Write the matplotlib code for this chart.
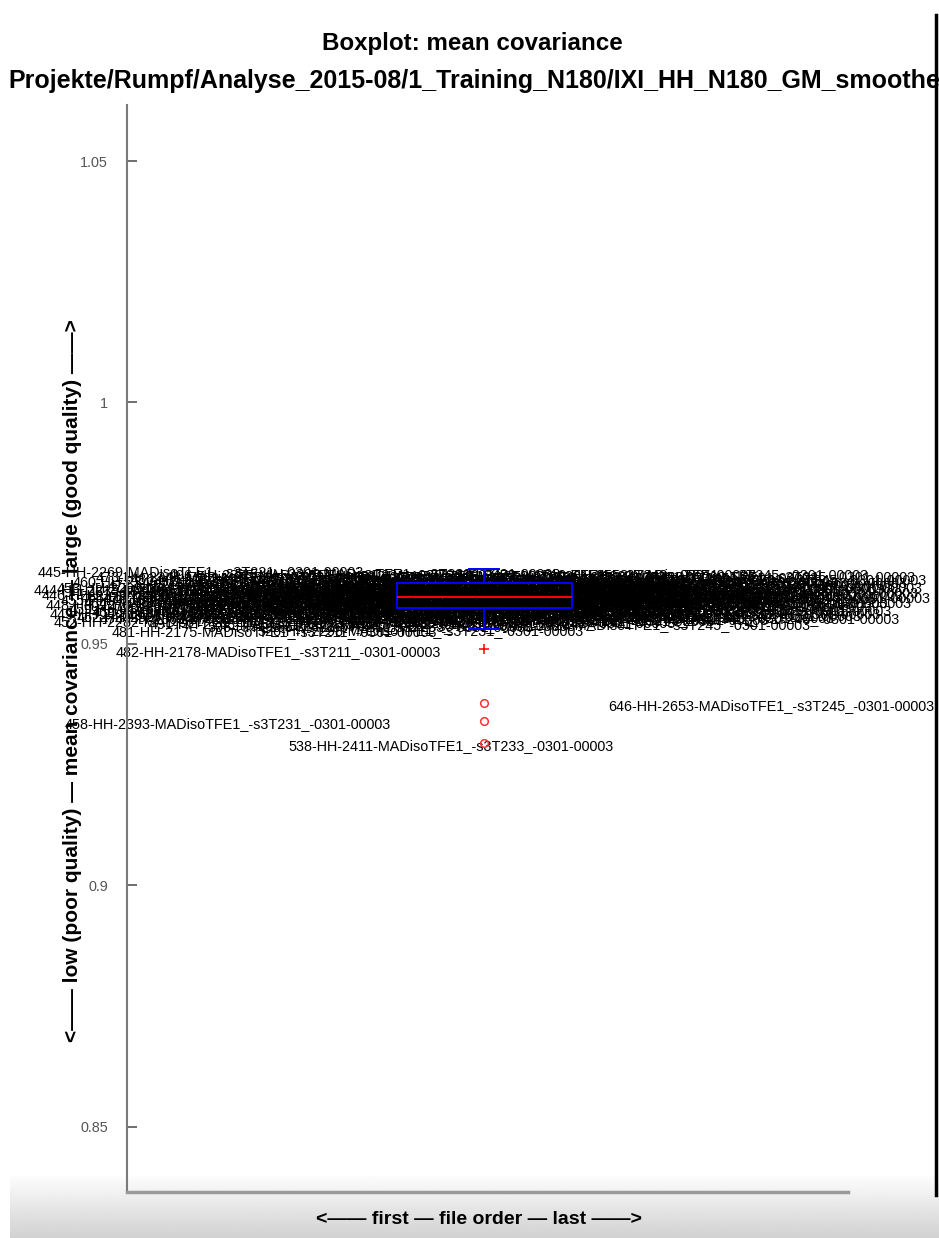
import numpy as np
import matplotlib

matplotlib.use("Agg")
import matplotlib.pyplot as plt
from matplotlib.lines import Line2D
from matplotlib.ticker import FormatStrFormatter

plt.rcParams["font.family"] = ["Liberation Sans", "DejaVu Sans"]

# scans in file order (IXI subject, HH session, scan series) and their mean covariance
subject = [444, 445, 446, 448, 449, 452, 453, 455, 458, 459,
           460, 462, 463, 464, 467, 469, 473, 474, 476, 477,
           481, 482, 483, 484, 485, 486, 487, 488, 489, 490,
           491, 492, 493, 494, 495, 496, 497, 498, 499, 500,
           501, 502, 503, 504, 505, 506, 507, 508, 510, 511,
           512, 513, 515, 516, 517, 518, 519, 522, 526, 527,
           528, 530, 531, 532, 534, 536, 538, 539, 541, 542,
           543, 544, 545, 546, 548, 549, 550, 551, 552, 553,
           554, 555, 556, 558, 559, 560, 561, 562, 563, 565,
           566, 567, 568, 569, 570, 571, 572, 573, 574, 575,
           576, 577, 578, 579, 581, 582, 583, 584, 585, 586,
           587, 588, 589, 591, 592, 593, 594, 595, 596, 597,
           598, 599, 600, 601, 602, 603, 604, 605, 606, 607,
           608, 609, 610, 611, 612, 613, 614, 617, 618, 619,
           621, 622, 623, 625, 626, 627, 630, 631, 640, 646]
hh_id = [2215, 2269, 2270, 2276, 2281, 2282, 2299, 2318, 2393, 2326,
         2340, 2327, 2331, 2342, 2355, 2362, 2348, 2363, 2154, 2164,
         2175, 2178, 2182, 2183, 2186, 2184, 2189, 2202, 2226, 2253,
         2268, 2233, 2204, 2315, 2336, 2385, 2387, 2388, 2367, 2389,
         2301, 2328, 2397, 2357, 2399, 2395, 2363, 2401, 2405, 2386,
         2390, 2403, 2398, 2394, 2408, 2414, 2378, 2396, 2298, 2400,
         2404, 2412, 2391, 2418, 2410, 2377, 2411, 2413, 2406, 2431,
         2432, 2421, 2407, 2419, 2415, 2425, 2416, 2427, 2438, 2429,
         2436, 2409, 2435, 2441, 2445, 2446, 2447, 2437, 2443, 2449,
         2450, 2452, 2454, 2440, 2442, 2451, 2460, 2466, 2467, 2469,
         2470, 2474, 2475, 2479, 2481, 2482, 2498, 2500, 2502, 2503,
         2504, 2508, 2510, 2513, 2516, 2517, 2520, 2529, 2531, 2532,
         2533, 2535, 2536, 2542, 2540, 2543, 2541, 2544, 2546, 2549,
         2550, 2551, 2553, 2554, 2556, 2558, 2561, 2567, 2568, 2570,
         2575, 2578, 2580, 2587, 2589, 2590, 2592, 2595, 2622, 2653]
scan = [223, 221, 221, 223, 225, 225, 231, 231, 231, 221,
        223, 225, 225, 231, 231, 221, 233, 233, 211, 211,
        211, 211, 212, 212, 211, 212, 212, 221, 221, 223,
        225, 225, 221, 231, 233, 231, 231, 233, 235, 231,
        225, 225, 233, 231, 233, 233, 231, 233, 233, 231,
        231, 233, 233, 231, 235, 235, 233, 233, 231, 233,
        233, 233, 235, 231, 233, 231, 233, 233, 235, 235,
        235, 233, 233, 235, 235, 235, 235, 235, 241, 235,
        241, 235, 241, 241, 241, 241, 241, 235, 241, 241,
        241, 241, 241, 241, 241, 241, 243, 243, 243, 243,
        241, 243, 243, 243, 243, 243, 243, 243, 243, 243,
        243, 243, 243, 243, 243, 243, 243, 245, 245, 245,
        245, 245, 245, 245, 243, 245, 245, 245, 245, 245,
        245, 245, 245, 245, 245, 245, 245, 245, 245, 245,
        245, 245, 245, 245, 245, 245, 245, 245, 245, 245]
mean_cov = [0.9618, 0.9655, 0.9608, 0.9587, 0.9568, 0.9552, 0.9623, 0.9597, 0.9341, 0.9579,
            0.9634, 0.9561, 0.9603, 0.9590, 0.9614, 0.9572, 0.9645, 0.9557, 0.9599, 0.9628,
            0.9531, 0.9489, 0.9583, 0.9616, 0.9566, 0.9640, 0.9594, 0.9569, 0.9621, 0.9606,
            0.9547, 0.9637, 0.9588, 0.9611, 0.9576, 0.9649, 0.9600, 0.9563, 0.9626, 0.9585,
            0.9615, 0.9592, 0.9643, 0.9578, 0.9605, 0.9541, 0.9620, 0.9558, 0.9597, 0.9631,
            0.9584, 0.9609, 0.9651, 0.9571, 0.9602, 0.9625, 0.9544, 0.9593, 0.9533, 0.9617,
            0.9581, 0.9639, 0.9598, 0.9566, 0.9613, 0.9589, 0.9295, 0.9633, 0.9552, 0.9607,
            0.9595, 0.9646, 0.9575, 0.9619, 0.9586, 0.9560, 0.9629, 0.9601, 0.9572, 0.9614,
            0.9641, 0.9591, 0.9549, 0.9622, 0.9604, 0.9580, 0.9636, 0.9596, 0.9565, 0.9610,
            0.9627, 0.9585, 0.9553, 0.9618, 0.9594, 0.9644, 0.9577, 0.9608, 0.9632, 0.9562,
            0.9599, 0.9616, 0.9573, 0.9648, 0.9587, 0.9605, 0.9556, 0.9624, 0.9593, 0.9611,
            0.9638, 0.9579, 0.9602, 0.9568, 0.9630, 0.9590, 0.9613, 0.9546, 0.9606, 0.9642,
            0.9584, 0.9621, 0.9597, 0.9559, 0.9635, 0.9603, 0.9576, 0.9617, 0.9589, 0.9628,
            0.9564, 0.9609, 0.9650, 0.9582, 0.9600, 0.9568, 0.9619, 0.9592, 0.9574, 0.9626,
            0.9557, 0.9606, 0.9633, 0.9590, 0.9645, 0.9612, 0.9622, 0.9639, 0.9601, 0.9378]

# quartiles of the distribution
q1, median, q3 = 0.95739, 0.95967, 0.96257

y_ticks = [0.85, 0.9, 0.95, 1.0, 1.05]

title = "Boxplot: mean covariance"
data_path = "Projekte/Rumpf/Analyse_2015-08/1_Training_N180/IXI_HH_N180_GM_smoothed"
y_label = "<\u2014\u2014 low (poor quality) \u2014 mean covariance \u2014 large (good quality) \u2014\u2014>"
x_label = "<\u2014\u2014 first \u2014 file order \u2014 last \u2014\u2014>"

names = [f"{s}-HH-{h}-MADisoTFE1_-s3T{t}_-0301-00003" for s, h, t in zip(subject, hh_id, scan)]
values = np.array(mean_cov)
n = len(values)

iqr = q3 - q1
lo_fence, hi_fence = q1 - 1.5 * iqr, q3 + 1.5 * iqr
far_fence = q1 - 3 * iqr
inside = values[(values >= lo_fence) & (values <= hi_fence)]
mild = values[(values < lo_fence) & (values >= far_fence)]
extreme = values[values < far_fence]
stats = dict(med=median, q1=q1, q3=q3, whislo=inside.min(), whishi=inside.max(), fliers=[])

W, H = 939, 1238
fig = plt.figure(figsize=(W / 100, H / 100), dpi=100, facecolor="white")

# grey window strip at the bottom
strip = fig.add_axes([10 / W, 0, 1 - 10 / W, 62 / H], zorder=0)
shade = np.linspace(0.99, 0.82, 64)[:, None]
strip.imshow(shade, aspect="auto", cmap="gray", vmin=0, vmax=1, interpolation="bilinear")
strip.set_axis_off()

ax = fig.add_axes([127 / W, 46 / H, 721 / W, 1087 / H], zorder=1)
ax.patch.set_alpha(0)
ax.set_ylim(0.8365, 1.0616)
ax.set_xlim(-0.122 * (n - 1), 1.134 * (n - 1))

for i, (name, v) in enumerate(zip(names, values)):
    ax.annotate(name, (i, v), xytext=(0, -2.2), textcoords="offset points",
                ha="center", va="center", fontsize=10.4, color="black",
                annotation_clip=False, zorder=2)

pos = (n - 1) / 2
ax.bxp([stats], positions=[pos], widths=0.305 * (n - 1), capwidths=[0.053 * (n - 1)],
       showfliers=False, manage_ticks=False, zorder=3,
       boxprops=dict(color="#0000ff", lw=1.4),
       medianprops=dict(color="#ff0000", lw=1.4),
       whiskerprops=dict(color="#0000ff", lw=1.2),
       capprops=dict(color="#0000ff", lw=1.4))
ax.plot(np.full(len(mild), pos), mild, "+", color="#ff0000", ms=7, mew=1.1, zorder=4)
ax.plot(np.full(len(extreme), pos), extreme, "o", mfc="none", mec="#ff3030",
        ms=5.5, mew=1.1, zorder=4)

for side in ("top", "right"):
    ax.spines[side].set_visible(False)
ax.spines["left"].set_color("#7a7a7a")
ax.spines["left"].set_linewidth(1.5)
ax.spines["bottom"].set_color("#9a9a9a")
ax.spines["bottom"].set_linewidth(2.5)
ax.set_xticks([])
ax.set_yticks(y_ticks)
ax.yaxis.set_major_formatter(FormatStrFormatter("%g"))
ax.tick_params(axis="y", direction="in", length=7, width=1.2, color="#555555",
               labelcolor="#555555", labelsize=10.4, pad=13.5)

fig.text(472 / W, 1 - 50 / H, title, ha="center", va="baseline",
         fontsize=17.4, fontweight="bold")
fig.text(8 / W, 1 - 88 / H, data_path, ha="left", va="baseline",
         fontsize=18.0, fontweight="bold")
fig.text(73 / W, 1 - 681 / H, y_label, rotation=90, ha="center", va="center",
         fontsize=15, fontweight="bold")
fig.text(479 / W, 1 - 1220 / H, x_label, ha="center", va="center",
         fontsize=14, fontweight="bold")

# window edge on the right
fig.add_artist(Line2D([936 / W, 936 / W], [1 - 15 / H, 1 - 1195 / H], color="black", lw=2.5))

fig.savefig("out.png", dpi=100, facecolor="white")
